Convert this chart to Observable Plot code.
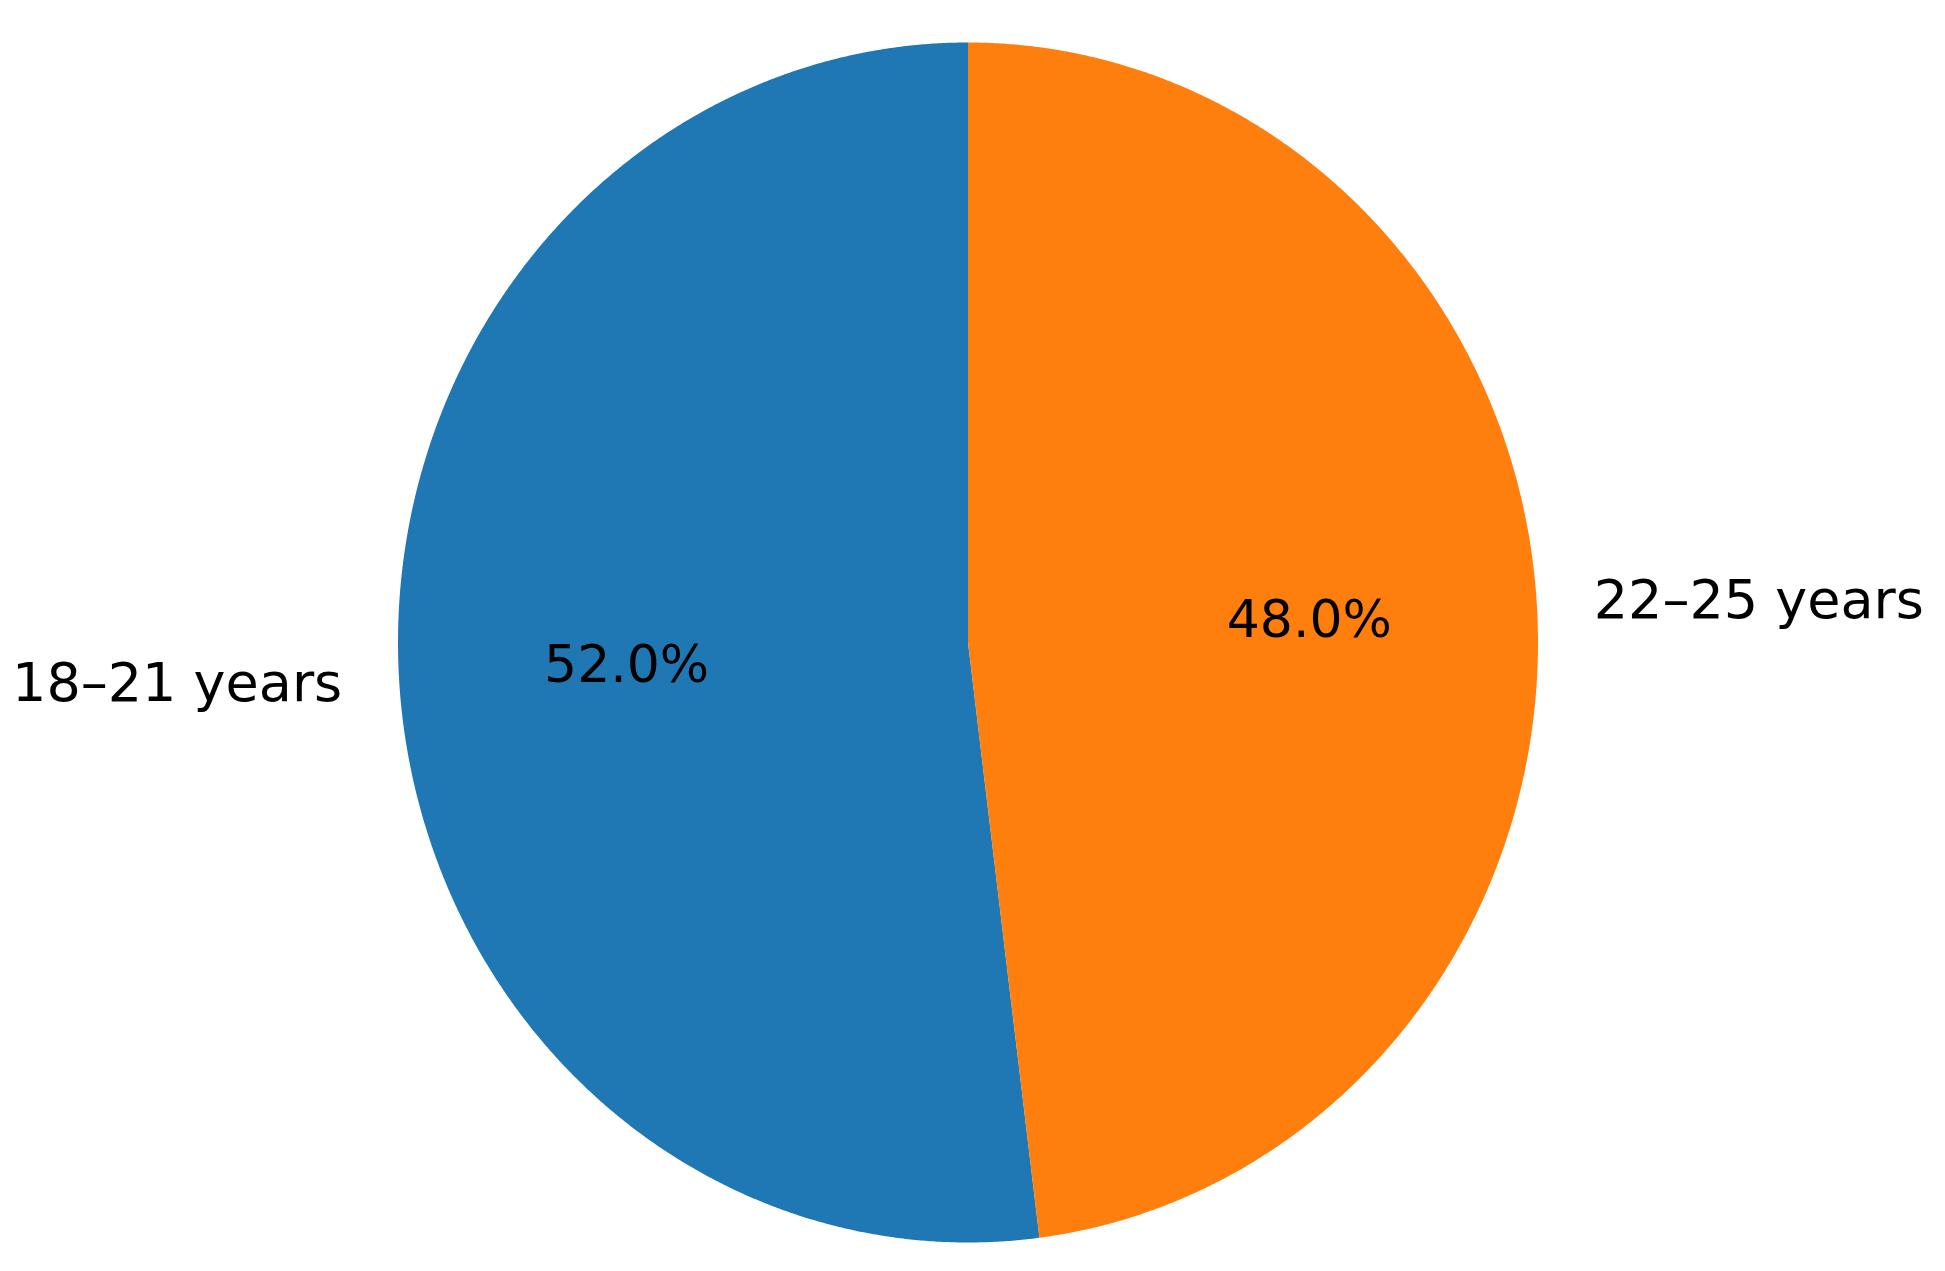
<!DOCTYPE html>
<html>
<head>
<meta charset="utf-8">
<script src="https://cdn.jsdelivr.net/npm/d3@7"></script>
<script src="https://cdn.jsdelivr.net/npm/@observablehq/plot@0.6"></script>
<style>
  html, body { margin: 0; padding: 0; background: #fff; overflow: hidden; }
  #chart svg { display: block; }
</style>
</head>
<body>
<div id="chart"></div>
<script>
const categories = ["18–21 years", "22–25 years"];
const values = [52, 48];
const colors = ["#1f77b4", "#ff7f0e"];

const total = d3.sum(values);
// matplotlib-style: start at top (90°), counterclockwise
let acc = 0;
const slices = categories.map((c, i) => {
  const start = acc / total * 2 * Math.PI;
  acc += values[i];
  const end = acc / total * 2 * Math.PI;
  return {category: c, value: values[i], start, end, mid: (start + end) / 2, color: colors[i]};
});
// angle a measured counterclockwise from top
const px = (a, r) => -r * Math.sin(a);
const py = (a, r) => r * Math.cos(a);

const wedgePts = [];
for (const s of slices) {
  wedgePts.push({k: s.category, x: 0, y: 0, color: s.color});
  const n = Math.max(2, Math.ceil((s.end - s.start) / (Math.PI / 720)));
  for (let j = 0; j <= n; j++) {
    const a = s.start + (s.end - s.start) * j / n;
    wedgePts.push({k: s.category, x: px(a, 1), y: py(a, 1), color: s.color});
  }
  wedgePts.push({k: s.category, x: 0, y: 0, color: s.color});
}
const labels = slices.map(s => ({
  text: s.category, x: px(s.mid, 1.1), y: py(s.mid, 1.1), left: px(s.mid, 1) < 0
}));
const pcts = slices.map(s => ({
  text: (s.value / total * 100).toFixed(1) + "%", x: px(s.mid, 0.6), y: py(s.mid, 0.6)
}));

const chart = Plot.plot({
  width: 1945,
  height: 1271,
  margin: 0,
  style: {fontFamily: "DejaVu Sans", background: "#fff", color: "#000"},
  x: {domain: [-1, 1], range: [397.5, 1537.5], axis: null},
  y: {domain: [-1, 1], range: [1242, 42], axis: null},
  marks: [
    Plot.line(wedgePts, {x: "x", y: "y", z: "k", fill: "color", stroke: "none", curve: "linear-closed"}),
    Plot.text(labels.filter(d => d.left), {x: "x", y: "y", text: "text", textAnchor: "end", fontSize: 54, fill: "#000"}),
    Plot.text(labels.filter(d => !d.left), {x: "x", y: "y", text: "text", textAnchor: "start", fontSize: 54, fill: "#000"}),
    Plot.text(pcts, {x: "x", y: "y", text: "text", textAnchor: "middle", fontSize: 52, fill: "#000"})
  ]
});
document.getElementById("chart").append(chart);
</script>
</body>
</html>
